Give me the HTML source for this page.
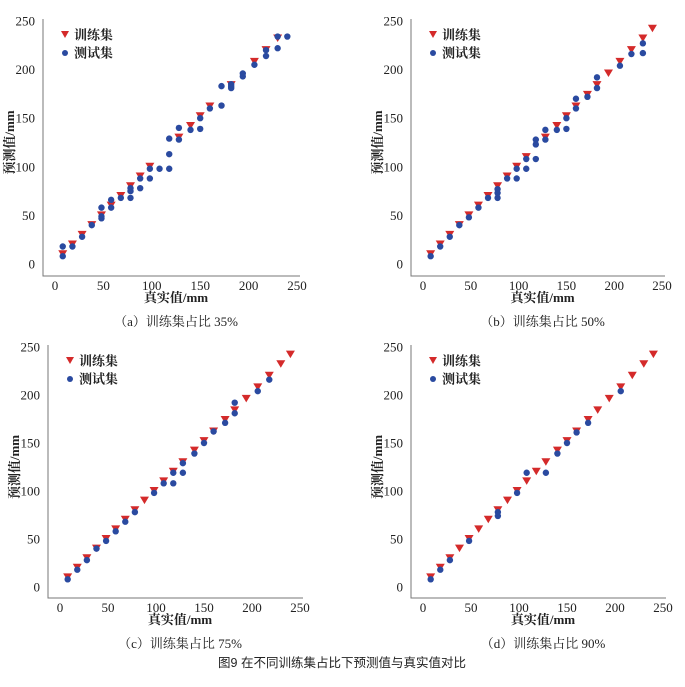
<!DOCTYPE html>
<html><head><meta charset="utf-8"><style>
html,body{margin:0;padding:0;background:#fff;}
svg{display:block;}
text{font-family:"Liberation Serif","Noto Serif CJK SC",serif;fill:#222;}
</style></head><body>
<svg id="s" width="685" height="687" xmlns="http://www.w3.org/2000/svg"></svg>
<script>
const s=document.getElementById('s');let h='';
const T=[8,18,28,38,48,58,68,78,88,98,108,118,128,140,150,160,172,182,194,206,218,230,240];
const P=[
 {ax:43,x0:55,x1:297,y1:21,y0:264,bot:276,cap:"（a）训练集占比 35%",
  tr:[8,18,28,38,48,58,68,78,88,98,128,140,150,160,182,206,218,230],
  te:[[8,18],[8,8],[18,18],[28,28],[38,40],[48,58],[48,47],[48,49],[58,66],[58,58],[68,68],[78,68],[78,75],[78,78],[88,78],[88,88],[98,88],[98,98],[108,98],[118,129],[118,113],[118,98],[128,140],[128,128],[140,138],[150,150],[150,139],[160,160],[172,183],[172,163],[182,185],[182,181],[182,183],[194,196],[194,193],[206,205],[218,214],[218,220],[230,222],[230,234],[240,234]]},
 {ax:411,x0:423,x1:662,y1:21,y0:264,bot:276,cap:"（b）训练集占比 50%",
  tr:[8,18,28,38,48,58,68,78,88,98,108,128,140,150,160,172,182,194,206,218,230,240],
  te:[[8,8],[18,18],[28,28],[38,40],[48,48],[58,58],[68,68],[78,68],[78,73],[78,77],[88,88],[98,88],[98,98],[108,98],[108,108],[118,108],[118,123],[118,128],[128,128],[128,138],[140,138],[150,139],[150,150],[160,170],[160,160],[172,172],[182,192],[182,181],[206,204],[218,216],[230,217],[230,227]]},
 {ax:48,x0:60,x1:300,y1:347,y0:587,bot:598,cap:"（c）训练集占比 75%",
  tr:T,
  te:[[8,8],[18,18],[28,28],[38,40],[48,48],[58,58],[68,68],[78,78],[98,98],[108,108],[118,108],[118,119],[128,119],[128,129],[140,139],[150,150],[160,162],[172,171],[182,192],[182,181],[206,204],[218,216]]},
 {ax:411,x0:423,x1:663,y1:347,y0:587,bot:598,cap:"（d）训练集占比 90%",
  tr:T,
  te:[[8,8],[18,18],[28,28],[48,48],[78,74],[78,78],[98,98],[108,119],[128,119],[140,139],[150,150],[160,161],[172,171],[206,204]]}
];
P.forEach(p=>{
 const X=v=>p.x0+(p.x1-p.x0)*v/250, Y=v=>p.y0-(p.y0-p.y1)*v/250;
 h+=`<path d="M${p.ax} ${p.y1-2}V${p.bot}H${p.x1+3}" fill="none" stroke="#777" stroke-width="1"/>`;
 for(let v=0;v<=250;v+=50){
  h+=`<text x="${p.ax-8}" y="${Y(v)+4.5}" font-size="13" text-anchor="end">${v}</text>`;
  h+=`<text x="${X(v)}" y="${p.bot+14}" font-size="13" text-anchor="middle">${v}</text>`;
 }
 h+=`<text x="${(p.x0+p.x1)/2}" y="${p.bot+26}" font-size="13" font-weight="bold" text-anchor="middle">真实值/mm</text>`;
 const cy=(p.y0+p.y1)/2, lx=p.ax-29;
 h+=`<text transform="translate(${lx},${cy}) rotate(-90)" font-size="13" font-weight="bold" text-anchor="middle">预测值/mm</text>`;
 h+=`<text x="${(p.x0+p.x1)/2}" y="${p.bot+50}" font-size="13" fill="#444" text-anchor="middle">${p.cap}</text>`;
 const lgx=p.ax+22, lgy=p.y1+14;
 h+=`<path d="M${lgx-4} ${lgy-4}h8l-4 7z" fill="#d42a2a"/><text x="${lgx+9}" y="${lgy+4.5}" font-size="13" font-weight="bold">训练集</text>`;
 h+=`<circle cx="${lgx}" cy="${lgy+18}" r="3" fill="#2a4aa0"/><text x="${lgx+9}" y="${lgy+22.5}" font-size="13" font-weight="bold">测试集</text>`;
 p.tr.forEach(v=>{const x=X(v),y=Y(v+2);h+=`<path d="M${x-4.5} ${y-4}h9l-4.5 7.5z" fill="#d42a2a"/>`;});
 p.te.forEach(([a,b])=>{h+=`<circle cx="${X(a)}" cy="${Y(b)}" r="3.2" fill="#2a4aa0"/>`;});
});
h+=`<text x="342" y="667" font-size="12.5" fill="#666" text-anchor="middle" style="font-family:'Liberation Sans','Noto Sans CJK SC',sans-serif">图9 在不同训练集占比下预测值与真实值对比</text>`;
s.innerHTML=h;
</script>
</body></html>
